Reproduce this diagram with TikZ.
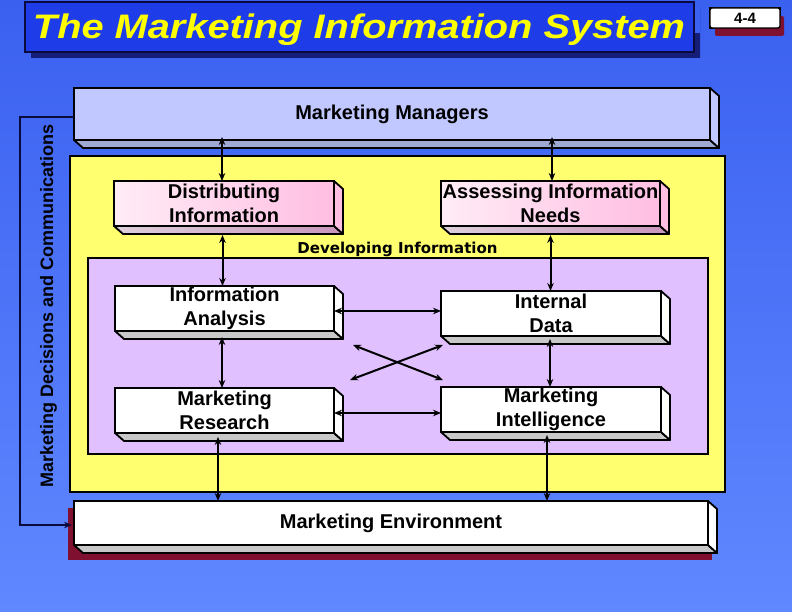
\documentclass[tikz,border=0pt]{standalone}
\usepackage{fontspec}
\setmainfont{Liberation Sans}
\newfontfamily\devfont{DejaVu Sans}
\usetikzlibrary{arrows.meta}
\definecolor{bgtop}{RGB}{58,96,240}
\definecolor{bgbot}{RGB}{96,136,255}
\definecolor{titleblue}{RGB}{30,60,232}
\definecolor{titleshadow}{RGB}{20,30,120}
\definecolor{titleyellow}{RGB}{255,255,0}
\definecolor{maroonshadow}{RGB}{128,16,48}
\definecolor{mmfill}{RGB}{192,200,255}
\definecolor{mmbottom}{RGB}{160,168,212}
\definecolor{envyellow}{RGB}{255,255,112}
\definecolor{devpurple}{RGB}{224,192,255}
\definecolor{pinkL}{RGB}{255,236,246}
\definecolor{pinkR}{RGB}{255,190,226}
\definecolor{pinkbotL}{RGB}{222,208,220}
\definecolor{pinkbotR}{RGB}{200,150,186}
\definecolor{graybot}{RGB}{200,200,200}
\definecolor{navyline}{RGB}{10,10,60}
\tikzset{
  boxtext/.style={font=\fontsize{20}{24}\selectfont\bfseries, align=center},
  frontbox/.style={draw=black, line width=1.8pt, inner sep=0pt, outer sep=0pt, boxtext},
  plainbox/.style={draw=black, line width=1.8pt, inner sep=0pt, outer sep=0pt},
  conn/.style={line width=2pt, {Stealth[length=8pt,width=6.5pt]}-{Stealth[length=8pt,width=6.5pt]}},
  facestyle/.style={draw=black, line width=1.8pt, line join=round},
}
\newcommand{\depthfaces}[3]{%
  \path[facestyle, #3] (#1.south west) -- (#1.south east) -- ([shift={(9pt,-8pt)}]#1.south east) -- ([shift={(9pt,-8pt)}]#1.south west) -- cycle;
  \path[facestyle, #2] (#1.north east) -- ([shift={(9pt,-8pt)}]#1.north east) -- ([shift={(9pt,-8pt)}]#1.south east) -- (#1.south east) -- cycle;
}
\begin{document}
\begin{tikzpicture}[x=1pt,y=-1pt]
\useasboundingbox (0,0) rectangle (792,612);
\shade[top color=bgtop, bottom color=bgbot] (0,0) rectangle (792,612);

% title
\node[plainbox, draw=navyline, fill=titleblue, minimum width=669pt, minimum height=50pt] (tbox) at (359.5,27) {};
\fill[titleshadow] ([shift={(6pt,-6pt)}]tbox.south west) rectangle ([shift={(6pt,-6pt)}]tbox.south east |- tbox.center);
\fill[titleshadow] ([shift={(6pt,-6pt)}]tbox.north east) rectangle ([shift={(6pt,-6pt)}]tbox.south east);
\node[plainbox, draw=navyline, fill=titleblue, minimum width=669pt, minimum height=50pt] at (tbox.center) {};
\node[anchor=base, text=titleyellow, font=\fontsize{34}{40}\selectfont\bfseries\itshape] (title) at (359,39) {\scalebox{1.17}[1]{The Marketing Information System}};

% page number
\node[plainbox, line width=1.2pt, minimum width=70pt, minimum height=20pt] (pgref) at (745,18) {};
\fill[maroonshadow, rounded corners=2pt] ([shift={(5pt,-8pt)}]pgref.north west) rectangle ([shift={(4pt,-8pt)}]pgref.south east);
\node[plainbox, line width=1.4pt, fill=white, rounded corners=2pt, minimum width=70pt, minimum height=20pt, font=\fontsize{15}{17}\selectfont\bfseries] (pg) at (745,18) {4-4};

% marketing managers
\node[frontbox, fill=mmfill, minimum width=636pt, minimum height=52pt] (mm) at (392,114) {Marketing Managers};
\depthfaces{mm}{fill=mmfill}{fill=mmbottom}

% yellow and purple areas
\node[plainbox, fill=envyellow, minimum width=655pt, minimum height=336pt] (ybox) at (397.5,324) {};
\node[plainbox, fill=devpurple, minimum width=620pt, minimum height=196pt] (pbox) at (398,356) {};
\node[anchor=base, font={\fontsize{15}{18}\devfont\bfseries}, inner sep=0pt] (devlabel) at (397.5,254) {Developing Information};

% rotated side label
\node[rotate=90, anchor=base, font=\fontsize{18}{20}\selectfont\bfseries, inner sep=0pt] (mdc) at (53,306) {Marketing Decisions and Communications};

% pink boxes
\node[frontbox, left color=pinkL, right color=pinkR, minimum width=220pt, minimum height=45pt] (dist) at (224,203.5) {Distributing\\Information};
\depthfaces{dist}{fill=pinkR}{left color=pinkbotL, right color=pinkbotR}
\node[frontbox, left color=pinkL, right color=pinkR, minimum width=219pt, minimum height=45pt] (ass) at (550.5,203.5) {Assessing Information\\Needs};
\depthfaces{ass}{fill=pinkR}{left color=pinkbotL, right color=pinkbotR}

% white boxes
\node[frontbox, fill=white, minimum width=219pt, minimum height=45pt] (ia) at (224.5,308.5) {Information\\Analysis};
\depthfaces{ia}{fill=white}{fill=graybot}
\node[frontbox, fill=white, minimum width=220pt, minimum height=45pt] (id) at (551,313.5) {Internal\\Data};
\depthfaces{id}{fill=white}{fill=graybot}
\node[frontbox, fill=white, minimum width=219pt, minimum height=45pt] (mr) at (224.5,410.5) {Marketing\\Research};
\depthfaces{mr}{fill=white}{fill=graybot}
\node[frontbox, fill=white, minimum width=220pt, minimum height=45pt] (mi) at (551,409.5) {Marketing\\Intelligence};
\depthfaces{mi}{fill=white}{fill=graybot}

% marketing environment
\node[plainbox, minimum width=634pt, minimum height=44pt] (meref) at (391,523) {};
\fill[maroonshadow] ([shift={(-6pt,-7pt)}]meref.north west) rectangle ([shift={(4pt,-15pt)}]meref.south east);
\node[frontbox, fill=white, minimum width=634pt, minimum height=44pt] (me) at (391,523) {Marketing Environment};
\depthfaces{me}{fill=white}{fill=graybot}

% feedback line
\coordinate (fbx) at (20,300);
\draw[line width=2pt, navyline, -{Stealth[length=8pt,width=6.5pt]}] ([yshift=-3pt]mm.west) -| (fbx) |- ([xshift=-2pt,yshift=-2pt]me.west);

% connectors
\draw[conn] ([xshift=-2pt,yshift=3pt]mm.south -| dist.north) -- ([xshift=-2pt]dist.north);
\draw[conn] ([xshift=1.5pt,yshift=3pt]mm.south -| ass.north) -- ([xshift=1.5pt]ass.north);
\draw[conn] ([xshift=-1.5pt,yshift=-9pt]dist.south) -- ([xshift=-1.5pt]dist.south |- ia.north);
\draw[conn] ([yshift=-9pt]ass.south) -- (ass.south |- id.north);
\draw[conn] ([yshift=-2.5pt]ia.east) -- ([yshift=-2.5pt]ia.east -| id.west);
\draw[conn] ([yshift=-2.5pt]mr.east) -- ([yshift=-2.5pt]mr.east -| mi.west);
\draw[conn] ([xshift=-2.5pt,yshift=-6pt]ia.south) -- ([xshift=-2.5pt]ia.south |- mr.north);
\draw[conn] ([xshift=-1pt,yshift=-3pt]id.south) -- ([xshift=-1pt]id.south |- mi.north);
\draw[conn] ([shift={(19pt,-14pt)}]ia.south east) -- ([shift={(2pt,7pt)}]mi.north west);
\draw[conn] ([shift={(16pt,8pt)}]mr.north east) -- ([shift={(2pt,-9pt)}]id.south west);
\draw[conn] ([xshift=-6.5pt,yshift=-4pt]mr.south) -- ([xshift=-6.5pt]mr.south |- me.north);
\draw[conn] ([xshift=-4pt,yshift=-3pt]mi.south) -- ([xshift=-4pt]mi.south |- me.north);
\end{tikzpicture}
\end{document}
